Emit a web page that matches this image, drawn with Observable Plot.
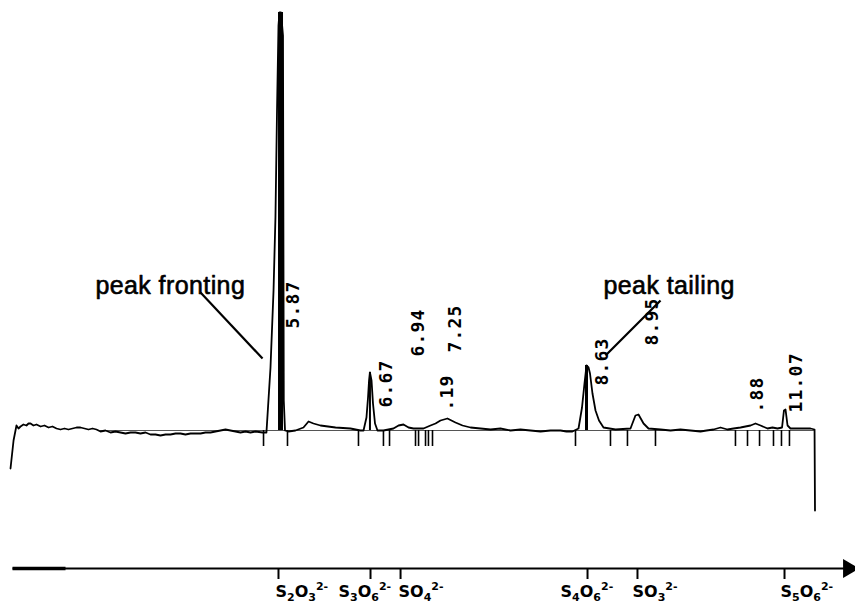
<!DOCTYPE html>
<html><head><meta charset="utf-8">
<script src="https://cdn.jsdelivr.net/npm/d3@7"></script>
<script src="https://cdn.jsdelivr.net/npm/@observablehq/plot@0.6"></script>
<style>
body{margin:0;background:#fff}
</style>
</head><body><div id="chart"></div>
<script>
// Chromatogram trace: retention time (min) and detector signal (arbitrary units, 0 = baseline)
const traceTime = [3.489,3.516,3.542,3.560,3.578,3.604,3.631,3.649,3.667,3.693,3.720,3.756,3.791,3.827,3.862,3.898,3.933,3.969,4.004,4.040,4.076,4.111,4.147,4.182,4.218,4.253,4.289,4.333,4.378,4.422,4.467,4.511,4.556,4.600,4.644,4.689,4.733,4.778,4.822,4.867,4.911,4.956,5.000,5.044,5.089,5.133,5.178,5.222,5.267,5.311,5.356,5.400,5.444,5.489,5.533,5.578,5.622,5.667,5.729,5.764,5.800,5.827,5.844,5.858,5.871,5.880,5.893,5.911,5.918,5.929,5.960,6.022,6.093,6.138,6.182,6.244,6.378,6.511,6.600,6.627,6.653,6.667,6.676,6.684,6.698,6.711,6.729,6.751,6.804,6.893,6.938,6.982,7.027,7.071,7.160,7.222,7.267,7.311,7.373,7.444,7.507,7.578,7.667,7.756,7.844,7.933,8.022,8.111,8.200,8.289,8.378,8.431,8.484,8.538,8.569,8.591,8.609,8.627,8.640,8.662,8.689,8.720,8.760,8.867,9.000,9.044,9.071,9.116,9.160,9.267,9.356,9.444,9.533,9.622,9.676,9.738,9.800,9.862,9.916,9.978,10.022,10.067,10.111,10.156,10.218,10.262,10.307,10.347,10.364,10.378,10.396,10.422,10.511,10.600,10.636,10.640];
const traceSignal = [-38,-10,5,2,4,6,5,7,7,5,6,4,5,3,4,2,1,2,1,2,3,3,2,1,2,1,-1,0,-2,-1,-2,-3,-2,-2,-3,-2,-4,-4,-5,-4,-4,-3,-3,-4,-3,-3,-3,-2,-2,-1,0,1,0,-1,-2,-1,-2,-1,-2,-2,63,140,213,320,405,418,418,395,30,0,-1,0,3,9,7,5,3,2,0,0,13,33,50,58,50,27,7,0,0,2,5,6,3,2,2,5,7,10,12,8,5,3,2,1,2,0,1,0,-1,0,0,-1,-1,2,23,47,65,63,57,37,20,10,3,1,2,15,16,7,2,1,0,1,0,-1,0,1,3,1,2,3,4,5,7,5,2,3,2,3,20,21,5,2,2,2,1,-80];

// Integration markers below the baseline
const markTime = [5.738,5.951,6.582,6.804,6.858,7.089,7.116,7.178,7.204,7.240,8.511,8.822,8.973,9.222,9.933,10.040,10.147,10.271,10.342,10.413];
const markDepth = -16;

// Peak drop lines
const dropTime = [5.889, 6.684, 8.609];
const dropHeight = [418, 58, 65];
const dropWidth = [5, 2, 3];

// Retention time labels
const rtText = ["5.87","6.67","6.94","7.25",".19","8.63","8.95",".88","11.07"];
const rtTime = [6.004,6.831,7.116,7.444,7.373,8.751,9.196,10.129,10.476];
const rtSignal = [102,23,74,78,20,45,85,18,18];

// Annotations
const noteText = ["peak fronting","peak tailing"];
const noteTime = [4.244, 8.760];
const noteSignal = [144.7, 144.7];
const noteLine = [
  {t1:5.178, s1:138, t2:5.729, s2:72},
  {t1:8.778, s1:75, t2:9.267, s2:130}
];

// Ion axis (schematic) below the chromatogram
const ionNames = ["S\u2082O\u2083\u00B2\u207B","S\u2083O\u2086\u00B2\u207B","SO\u2084\u00B2\u207B","S\u2084O\u2086\u00B2\u207B","SO\u2083\u00B2\u207B","S\u2085O\u2086\u00B2\u207B"];
const ionTick = [5.871,6.689,6.956,8.618,9.062,10.369];
const ionLabelTime = [5.844,6.404,6.938,8.378,9.018,10.333];
const axisSignal = -138;
const axisStart = 3.507, axisThickEnd = 3.978, axisEnd = 10.93, axisHead = 10.938;

const trace = traceTime.map((t,i)=>({t, s:traceSignal[i]}));
const marks = markTime.map(t=>({t}));
const drops = dropTime.map((t,i)=>({t, h:dropHeight[i], w:dropWidth[i]}));
const rts = rtText.map((label,i)=>({label, t:rtTime[i], s:rtSignal[i]}));
const notes = noteText.map((label,i)=>({label, t:noteTime[i], s:noteSignal[i]}));
const ions = ionNames.map((name,i)=>({name, tick:ionTick[i], lt:ionLabelTime[i]}));

const chart = Plot.plot({
  width: 855, height: 603,
  marginTop: 0, marginRight: 0, marginBottom: 0, marginLeft: 0,
  x: {domain: [3.4, 11.0], axis: null},
  y: {domain: [-173, 430], axis: null},
  style: {background: "#fff"},
  marks: [
    Plot.ruleY([0], {x1: 4.289, x2: 10.636, stroke: "#555", strokeWidth: 1}),
    Plot.ruleX(marks, {x: "t", y1: 0, y2: markDepth, stroke: "#000", strokeWidth: 1.6}),
    Plot.ruleX(drops, {x: "t", y1: 0, y2: "h", stroke: "#000", strokeWidth: "w"}),
    Plot.line(trace, {x: "t", y: "s", stroke: "#000", strokeWidth: 1.8, strokeLinejoin: "round"}),
    Plot.link(noteLine, {x1: "t1", y1: "s1", x2: "t2", y2: "s2", stroke: "#000", strokeWidth: 2.2}),
    Plot.text(notes, {x: "t", y: "s", text: "label", textAnchor: "start", fontSize: 25, fontFamily: "Liberation Sans, Arial, sans-serif", fill: "#000", stroke: "#000", strokeWidth: 0.6}),
    Plot.text(rts, {x: "t", y: "s", text: "label", rotate: -90, textAnchor: "start", fontSize: 18, fontWeight: "bold", fontFamily: "DejaVu Sans Mono, monospace", fill: "#000"}),
    // ion axis
    Plot.link([{a: axisStart, b: axisThickEnd}], {x1: "a", x2: "b", y1: axisSignal, y2: axisSignal, stroke: "#000", strokeWidth: 3.5}),
    Plot.link([{a: axisStart, b: axisEnd}], {x1: "a", x2: "b", y1: axisSignal, y2: axisSignal, stroke: "#000", strokeWidth: 2}),
    Plot.dot([{a: axisHead}], {x: "a", y: axisSignal, symbol: "triangle", rotate: 90, r: 7, fill: "#000", stroke: "none"}),
    Plot.ruleX(ions, {x: "tick", y1: axisSignal, y2: axisSignal - 11, stroke: "#000", strokeWidth: 2}),
    Plot.text(ions, {x: "lt", y: -161, text: "name", textAnchor: "start", fontSize: 16, fontWeight: "bold", fontFamily: "DejaVu Sans, sans-serif", fill: "#000"})
  ]
});

// Post-process text: letter spacing and typeset ion formulas with real sub/superscripts
const subMap = {"\u2080":"0","\u2081":"1","\u2082":"2","\u2083":"3","\u2084":"4","\u2085":"5","\u2086":"6","\u2087":"7","\u2088":"8","\u2089":"9"};
const supMap = {"\u00B2":"2","\u00B3":"3","\u207B":"-"};
d3.select(chart).selectAll("text").each(function() {
  const str = this.textContent;
  const sel = d3.select(this);
  if (rtText.includes(str)) sel.attr("letter-spacing", 1.2);
  else if (noteText.includes(str)) sel.attr("letter-spacing", 0.4);
  else if (ionNames.includes(str)) {
    sel.text(null);
    let shift = 0;
    for (const ch of str) {
      const kind = subMap[ch] !== undefined ? "sub" : supMap[ch] !== undefined ? "sup" : "base";
      const target = kind === "sub" ? 4 : kind === "sup" ? -7 : 0;
      const span = sel.append("tspan")
        .attr("dy", target - shift)
        .text(kind === "sub" ? subMap[ch] : kind === "sup" ? supMap[ch] : ch);
      if (kind !== "base") span.attr("font-size", 11);
      shift = target;
    }
  }
});

document.getElementById("chart").appendChild(chart);
</script>
</body></html>
